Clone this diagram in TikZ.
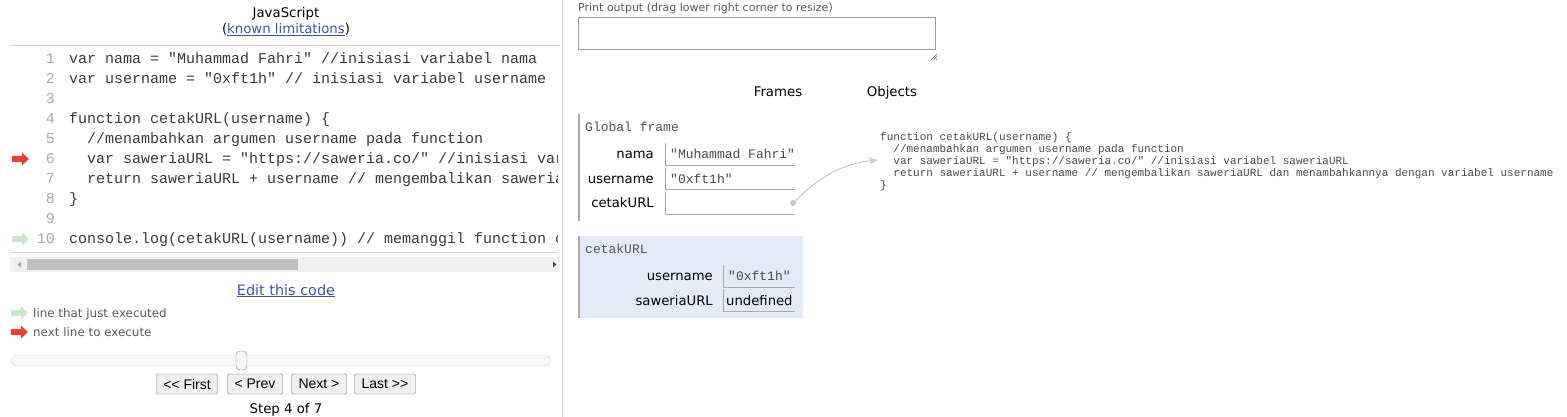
\documentclass[tikz,border=0pt]{standalone}
\usepackage{fontspec}
\setmainfont{DejaVu Sans}
\newfontfamily\ui{DejaVu Sans}
\newfontfamily\btnfont{Liberation Sans}
\newfontfamily\mono{Liberation Mono}
\usetikzlibrary{arrows.meta}
\definecolor{codetext}{HTML}{3A3A3A}
\definecolor{lnumgray}{HTML}{AAAAAA}
\definecolor{linkblue}{HTML}{3D58A2}
\definecolor{valgray}{HTML}{4A4A4A}
\definecolor{framegray}{HTML}{555555}
\definecolor{divider}{HTML}{D8D8D8}
\definecolor{cellgray}{HTML}{AAAAAA}
\definecolor{btnfill}{HTML}{EFEFEF}
\definecolor{btnborder}{HTML}{767676}
\definecolor{arrowgray}{HTML}{C8C8C8}
\definecolor{nextred}{HTML}{E93F34}
\definecolor{donegreen}{HTML}{C9E6CA}
\definecolor{stackbg}{HTML}{E2EBF6}
\definecolor{legendgray}{HTML}{5A5A5A}
\tikzset{
  code/.style={anchor=base west, inner sep=0pt, font=\mono\fontsize{15}{18}\selectfont, text=codetext},
  lnum/.style={anchor=base east, inner sep=0pt, font=\mono\fontsize{15}{18}\selectfont, text=lnumgray},
  uitext/.style={inner sep=0pt, font=\ui\fontsize{13.3}{16}\selectfont, text=black},
  varlabel/.style={anchor=base east, inner sep=0pt, font=\ui\fontsize{13.2}{15}\selectfont, text=black},
  valtext/.style={anchor=base west, inner sep=0pt, font=\mono\fontsize{13}{14}\selectfont, text=valgray},
  framelabel/.style={anchor=base west, inner sep=0pt, font=\mono\fontsize{13}{14}\selectfont, text=framegray},
  functext/.style={anchor=base west, inner sep=0pt, font=\mono\fontsize{11}{12}\selectfont, text=valgray},
  legendtext/.style={anchor=base west, inner sep=0pt, font=\ui\fontsize{11.9}{14}\selectfont, text=legendgray},
  btn/.style={draw=btnborder, fill=btnfill, rounded corners=2pt, inner sep=0pt,
    font=\btnfont\fontsize{14}{16}\selectfont, minimum height=20pt},
  cellline/.style={draw=cellgray, line width=1pt},
  framebar/.style={draw=cellgray, line width=1.5pt},
  ptrarrow/.style={draw=arrowgray, line width=1pt, -{Stealth[length=9pt,width=7pt,inset=2.5pt]}},
}
\newcommand{\blockarrow}[3]{% x, ycenter, color
  \fill[#3] (#1,#2-3) -- (#1+10,#2-3) -- (#1+10,#2-6.5) -- (#1+17,#2) -- (#1+10,#2+6.5) -- (#1+10,#2+3) -- (#1,#2+3) -- cycle;}
\begin{document}
\begin{tikzpicture}[x=1pt,y=-1pt]
\useasboundingbox (0,0) rectangle (1567,417);
\fill[white] (0,0) rectangle (1567,417);

% ---------- left pane ----------
\node[uitext, anchor=base] (title) at (286,17.5) {JavaScript};
\node[uitext, anchor=base] (limits) at (286,33.5) {(\textcolor{linkblue}{\underline{known limitations}})};
\draw[divider, line width=1pt] (10,46) -- (560,46);
\draw[divider, line width=1pt] (562,0) -- (562,417);

% line numbers
\foreach \i in {1,...,10} {
  \node[lnum] (ln\i) at (55,{63.5+20*(\i-1)}) {\i};
}
% code
\begin{scope}
\clip (60,47) rectangle (557,252);
\node[code] (c1) at (69,63.5) {var nama = "Muhammad Fahri" //inisiasi variabel nama};
\node[code] (c2) at (69,83.5) {var username = "0xft1h" // inisiasi variabel username};
\node[code] (c4) at (69,123.5) {function cetakURL(username) \{};
\node[code] (c5) at (87,143.5) {//menambahkan argumen username pada function};
\node[code] (c6) at (87,163.5) {var saweriaURL = "https://saweria.co/" //inisiasi variabel saweriaURL};
\node[code] (c7) at (87,183.5) {return saweriaURL + username // mengembalikan saweriaURL dan menambahkannya};
\node[code] (c8) at (69,203.5) {\}};
\node[code] (c10) at (69,243.5) {console.log(cetakURL(username)) // memanggil function c};
\end{scope}
\blockarrow{12}{159}{nextred}
\blockarrow{12}{239}{donegreen}

\draw[divider, line width=1pt] (10,252) -- (558,252);
% scrollbar
\fill[black!6] (10,257) rectangle (560,272);
\fill[black!25] (27,259) rectangle (298,270);
\fill[black!35] (21,261.5) -- (21,267.5) -- (17.5,264.5) -- cycle;
\fill[black!70] (553,261.5) -- (553,267.5) -- (556.5,264.5) -- cycle;

\node[anchor=base, inner sep=0pt, font=\ui\fontsize{14.4}{17}\selectfont, text=linkblue] (edit) at (286,295) {\underline{Edit this code}};

\blockarrow{11}{313}{donegreen}
\node[legendtext] (leg1) at (33,317.5) {line that just executed};
\blockarrow{11}{332}{nextred}
\node[legendtext] (leg2) at (33,336.5) {next line to execute};

% slider
\draw[draw=black!15, fill=black!3, rounded corners=5pt] (11,355.5) rectangle (551,365.5);
\draw[draw=black!45, fill=black!3, rounded corners=4pt] (236,351) rectangle (247,370);

\node[btn, minimum width=61pt] (first) at (187,384) {<< First};
\node[btn, minimum width=55pt] (prev) at (255,384) {< Prev};
\node[btn, minimum width=55pt] (next) at (319,384) {Next >};
\node[btn, minimum width=61pt] (last) at (385,384) {Last >>};
\node[uitext, anchor=base] (step) at (286,413.5) {Step 4 of 7};

% ---------- right pane ----------
\node[anchor=base west, inner sep=0pt, font=\ui\fontsize{11}{13}\selectfont, text=legendgray] (ptitle) at (578,12) {Print output (drag lower right corner to resize)};
\draw[draw=black!40, line width=1pt] (578.5,17.5) rectangle (935.5,49.5);
\draw[black!60, line width=0.6pt] (931,60) -- (937,54) (933.5,60) -- (937,56.5) (936,60) -- (937,59);

\node[uitext, anchor=base] (frames) at (778,96.5) {Frames};
\node[uitext, anchor=base] (objects) at (892,96.5) {Objects};

% global frame
\draw[framebar] (579,114) -- (579,221);
\node[framelabel] (gf) at (585,132) {Global frame};
\node[varlabel] (lnama) at (654,159) {nama};
\node[varlabel] (luser) at (654,183) {username};
\node[varlabel] (lcetak) at (654,207.5) {cetakURL};
\draw[cellline] (665,143) -- (665,166) -- (795,166);
\draw[cellline] (665,168) -- (665,190) -- (795,190);
\draw[cellline] (665,192) -- (665,214) -- (795,214);
\node[valtext] (vnama) at (670,159) {"Muhammad Fahri"};
\node[valtext] (vuser) at (670,183) {"0xft1h"};
\node[circle, fill=arrowgray, inner sep=0pt, minimum size=6pt] (dot) at (793,203) {};

% function object
\node[functext] (f1) at (880,140.5) {function cetakURL(username) \{};
\node[functext] (f2) at (893.2,152.5) {//menambahkan argumen username pada function};
\node[functext] (f3) at (893.2,164.5) {var saweriaURL = "https://saweria.co/" //inisiasi variabel saweriaURL};
\node[functext] (f4) at (893.2,176.5) {return saweriaURL + username // mengembalikan saweriaURL dan menambahkannya dengan variabel username};
\node[functext] (f5) at (880,188.5) {\}};
\coordinate (ftip) at (878,160);
\draw[ptrarrow] (dot.center) .. controls (812,184) and (836,164) .. (ftip);

% stack frame cetakURL
\fill[stackbg] (578,236) rectangle (803,318);
\draw[framebar] (579,236) -- (579,318);
\node[framelabel] (sf) at (585,253) {cetakURL};
\node[varlabel] (suser) at (713,280.5) {username};
\node[varlabel] (ssaw) at (713,305) {saweriaURL};
\draw[cellline] (723,265) -- (723,287) -- (795,287);
\draw[cellline] (723,289) -- (723,311) -- (795,311);
\node[valtext] (vsuser) at (728,280) {"0xft1h"};
\node[anchor=base west, inner sep=0pt, font=\ui\fontsize{13.2}{15}\selectfont, text=black] (vsaw) at (726,305) {undefined};
\end{tikzpicture}
\end{document}
